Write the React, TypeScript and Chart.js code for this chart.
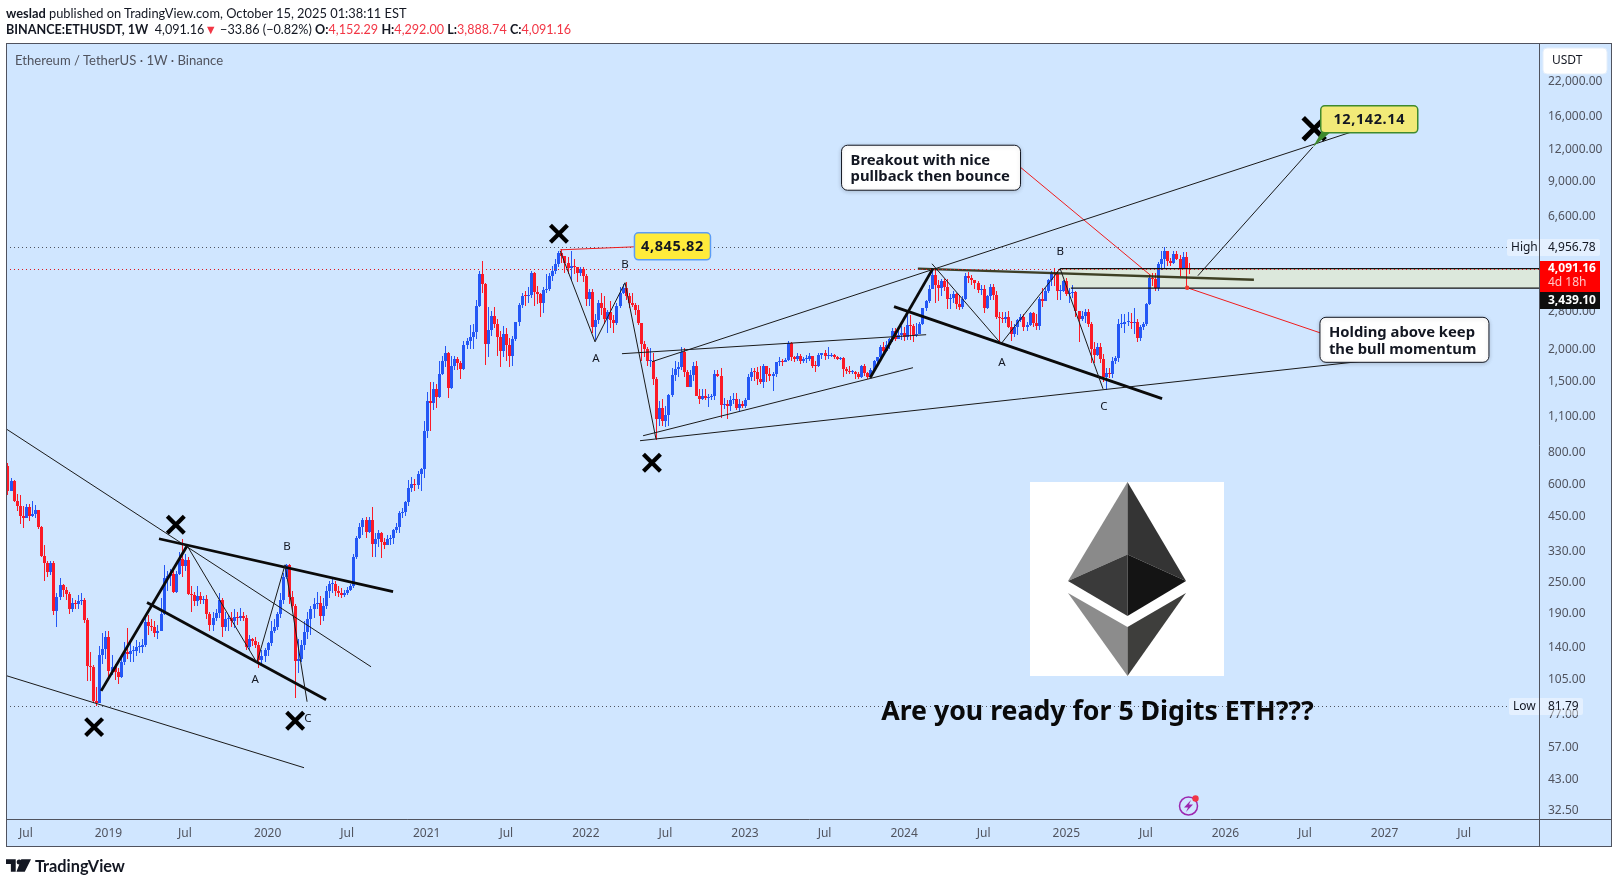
import React, { useEffect, useRef } from "react";
import { Chart, registerables } from "chart.js";

Chart.register(...registerables);

const firstOpen = 703;
const closes = [
  563,615,514,492,449,440,484,449,455,472,
  405,315,296,271,296,192,217,243,231,223,
  195,206,204,209,211,177,117,116,86,84,
  129,137,152,112,116,111,106,122,133,131,
  134,134,139,139,141,174,168,166,157,161,
  187,258,263,268,228,268,305,288,303,223,
  222,210,220,212,214,186,169,181,188,212,
  167,178,180,176,182,181,184,180,139,150,
  147,142,124,128,135,144,160,166,186,212,
  260,289,217,200,123,125,141,159,178,195,
  205,207,184,200,230,244,244,230,225,222,
  225,232,240,310,369,405,431,388,431,348,
  364,385,354,346,365,370,395,405,460,465,
  510,575,595,590,655,685,960,1250,1230,1390,
  1300,1600,1785,1930,1410,1720,1820,1760,1670,2060,
  2140,2230,2330,2930,3890,3560,2090,2370,2680,2490,
  2230,1960,2290,2060,1870,2180,2530,2950,3210,3200,
  3240,3940,3330,3270,3000,3380,3400,3830,4000,4260,
  4720,4570,4320,4100,4190,4135,3925,4065,3830,3120,
  3330,2420,2590,3010,2880,2620,2780,2580,2520,2940,
  3300,3450,3200,3000,2960,2830,2520,2090,2000,1800,
  1800,1520,1070,1180,1050,1110,1325,1580,1670,1700,
  1950,1620,1420,1580,1720,1310,1275,1310,1290,1300,
  1310,1590,1570,1210,1220,1195,1260,1275,1180,1220,
  1195,1265,1555,1630,1625,1520,1490,1720,1590,1570,
  1590,1770,1790,1780,1805,2100,1850,1830,1870,1800,
  1820,1830,1880,1720,1715,1890,1920,1870,1880,1890,
  1860,1830,1840,1665,1645,1630,1630,1590,1560,1710,
  1610,1560,1650,1800,1850,2030,1960,2060,2190,2350,
  2180,2260,2300,2220,2480,2460,2260,2290,2500,2880,
  3070,3420,3880,3520,3450,3650,3460,3130,3150,3250,
  2990,2910,3120,3830,3770,3680,3600,3380,3420,2880,
  3190,3480,3240,2650,2640,2610,2650,2430,2290,2420,
  2580,2650,2430,2470,2750,2510,2460,3130,3070,3350,
  3700,3950,3900,3340,3350,3650,3260,3300,3320,2800,
  2620,2670,2780,2490,2000,1890,2030,1820,1560,1610,
  1590,1800,1840,2490,2500,2530,2530,2525,2530,2200,
  2420,2500,2970,3760,3740,3450,4270,4470,4780,4390,
  4310,4670,4450,4120,4520,4125,4091.16,
];
const highs = [
  720,630,620,547,539,490,500,500,514,495,
  475,410,345,300,300,300,225,257,245,238,
  228,215,212,222,225,215,180,133,118,97,
  140,157,160,160,130,120,115,128,145,165,
  145,140,148,145,150,187,185,178,175,170,
  215,290,275,280,275,275,325,364,320,310,
  240,228,240,228,220,222,190,190,195,225,
  215,190,185,190,195,190,197,190,185,155,
  151,152,146,136,138,146,175,178,190,225,
  270,292,292,230,205,150,148,175,190,200,
  215,228,220,215,240,252,255,250,240,235,
  232,238,245,320,375,420,440,445,445,484,
  385,395,390,370,380,380,400,420,470,480,
  515,620,635,625,670,690,1050,1360,1480,1480,
  1460,1800,1880,2050,1950,1880,1880,1850,1800,2150,
  2200,2470,2500,3100,4000,4370,3600,2900,2800,2900,
  2600,2350,2450,2400,2200,2240,2550,3000,3300,3340,
  3480,4020,3960,3500,3300,3480,3900,3950,4200,4450,
  4800,4868,4600,4550,4780,4450,4150,4150,4150,3900,
  3410,3400,2730,3080,3280,3190,2830,3050,2700,3000,
  3480,3580,3620,3290,3300,3000,2960,2520,2150,2040,
  2010,1930,1560,1250,1280,1200,1340,1680,1790,1780,
  2030,2020,1650,1650,1780,1790,1400,1400,1390,1340,
  1340,1660,1660,1680,1290,1260,1310,1350,1350,1280,
  1250,1290,1600,1680,1680,1700,1710,1740,1700,1680,
  1630,1780,1860,1820,1835,2140,2120,1880,1930,1900,
  1850,1890,1920,1860,1790,1930,1930,1980,2030,1920,
  1900,1870,1860,1850,1700,1720,1660,1640,1620,1730,
  1750,1620,1680,1815,1860,2060,2130,2140,2200,2400,
  2400,2360,2450,2420,2700,2710,2500,2520,2530,2880,
  3100,3520,4000,4090,3680,3730,3720,3720,3250,3350,
  3300,3220,3200,3950,3980,3880,3700,3670,3520,3520,
  3220,3560,3560,3350,2780,2780,2780,2800,2570,2500,
  2600,2730,2720,2550,2770,2770,2720,3170,3450,3450,
  3740,4020,4110,4000,3540,3680,3750,3440,3530,3340,
  2800,2790,2850,2850,2550,2130,2100,2100,1900,1690,
  1690,1860,1880,2600,2730,2730,2780,2740,2880,2600,
  2470,2530,3000,3860,3940,3940,4330,4790,4956.78,4770,
  4490,4770,4770,4640,4760,4760,4292,
];
const lows = [
  540,560,510,470,416,402,440,430,445,440,
  400,310,251,260,265,185,167,212,218,212,
  187,190,195,195,203,173,103,103,84,81.79,
  84,120,125,105,108,104,100,105,118,125,
  122,122,128,132,132,139,155,160,152,150,
  160,185,230,240,225,225,265,260,275,222,
  190,200,200,205,205,178,160,160,175,180,
  152,160,160,167,165,170,176,176,136,136,
  140,138,115,118,122,128,140,158,162,180,
  205,255,205,190,88,110,122,135,150,155,
  180,195,170,175,195,215,225,220,218,215,
  218,222,230,236,305,365,380,370,385,310,
  310,340,308,335,345,345,350,385,385,440,
  450,490,555,560,570,560,630,900,960,1160,
  1180,1290,1580,1700,1290,1400,1650,1650,1530,1650,
  2000,2000,2000,2180,2900,3300,1730,1850,2250,2400,
  1870,1700,1850,1800,1700,1710,2150,2450,2880,2920,
  3000,3150,2930,2970,2650,2750,3300,3360,3650,3900,
  4150,4300,3950,3900,3700,3900,3640,3840,3620,2930,
  2930,2300,2160,2500,2700,2500,2300,2400,2300,2470,
  2880,3250,3100,2880,2900,2700,2480,1790,1860,1720,
  1700,1450,881,1000,1000,995,1000,1300,1500,1550,
  1650,1560,1420,1420,1500,1310,1220,1260,1270,1190,
  1270,1270,1560,1080,1170,1070,1150,1220,1160,1150,
  1180,1180,1260,1500,1500,1450,1460,1410,1480,1500,
  1370,1560,1720,1720,1770,1790,1800,1770,1790,1740,
  1760,1760,1800,1690,1620,1700,1830,1810,1830,1850,
  1820,1810,1810,1550,1600,1590,1600,1530,1530,1540,
  1570,1520,1550,1640,1750,1800,1930,1950,2000,2130,
  2140,2180,2170,2150,2170,2170,2130,2220,2490,2480,
  2800,3000,3400,3000,3050,3200,3350,2850,2850,3020,
  2850,2820,2860,3100,3600,3550,3400,3280,3240,2740,
  2850,3100,3100,2600,2100,2520,2520,2400,2150,2220,
  2270,2540,2350,2350,2450,2420,2360,2360,2900,3050,
  3300,3500,3500,3100,3100,3330,3200,3000,3140,2650,
  2120,2570,2520,2430,1760,1760,1880,1760,1480,1385,
  1540,1540,1750,1780,2400,2310,2450,2380,2290,2120,
  2150,2370,2450,2950,3500,3350,3350,4050,4060,4200,
  4200,4270,4400,3820,4100,3435,3888.74,
];
const opens = [firstOpen, ...closes.slice(0, -1)];

const priceTicks = [22000,16000,12000,9000,6600,2800,2000,1500,1100,800,600,450,330,250,190,140,105,77,57,43,32.5];
const timeTickWeeks = [6,33,58,85,111,137,163,189,215,241,267,293,319,346,372,398,424,450,476];
const timeTickLabels = ["Jul","2019","Jul","2020","Jul","2021","Jul","2022","Jul","2023","Jul","2024","Jul","2025","Jul","2026","Jul","2027","Jul"];

const priceHigh = 4956.78;
const priceLow = 81.79;
const priceLast = 4091.16;
const zoneBottom = 3439.1;

const thinLines = [
  [[-0.5,978],[118.8,116.6]],
  [[-0.3,107.6],[96.9,47.3]],
  [[58.7,344],[81.5,121],[90.7,290],[97.9,85.3]],
  [[180.6,4795],[192,2127],[201.8,3607],[211.9,894]],
  [[200.8,1913],[300.2,2267]],
  [[210.6,1781],[439.4,13900]],
  [[207.7,919],[295.9,1688]],
  [[206.7,879],[456,1862]],
  [[302.1,4274],[324.7,2091],[344,4090],[358,1397]],
  [[389,3840],[426.6,12142]],
];
const thickLines = [
  [[49.5,366],[126,228]],
  [[45.6,207],[104.1,86.8]],
  [[30.6,94],[58.7,344]],
  [[281.9,1543],[302.4,4090]],
  [[289.7,2913],[377.3,1280]],
];
const oliveLine = [[297.5,4090],[407.3,3702]];
const zoneLines = [
  [[344,4091.16],[501,4091.16]],
  [[347.5,3439.1],[501,3439.1]],
];
const redLines = [
  [[180.6,4840],[204.7,4971]],
  [[331.2,10080],[373.7,3840]],
  [[385.5,3450],[428.9,2306]],
];
const crossMarks = [[55,415],[28.3,68],[94,72],[180.2,5590],[210.6,722],[427,14280]];
const waveLabels = [
  ["B",91.3,341],["A",80.9,104],["C",98.2,73],
  ["A",192.3,1828],["B",201.8,4240],
  ["A",325,1766],["B",344,4757],["C",358.3,1192],
];

const BG = "#d0e6ff";
const FRAME = "#50535e";
const UP = "#2457f5";
const DOWN = "#fb1a26";
const FONT = '"Noto Sans", sans-serif';
const HEAD_FONT = 'Lato, sans-serif';

const fmt = (v: number) => v.toLocaleString("en-US", { minimumFractionDigits: 2, maximumFractionDigits: 2 });
const toPts = (l: number[][]) => l.map(([x, y]) => ({ x, y }));

function box(ctx: any, x: number, y: number, w: number, h: number, r: number, fill: string, stroke: string, lw: number) {
  ctx.beginPath();
  ctx.roundRect(x, y, w, h, r);
  ctx.fillStyle = fill;
  ctx.fill();
  if (lw > 0) {
    ctx.lineWidth = lw;
    ctx.strokeStyle = stroke;
    ctx.stroke();
  }
}
function poly(ctx: any, pts: number[][], fill: string) {
  ctx.beginPath();
  pts.forEach(([x, y], i) => (i ? ctx.lineTo(x, y) : ctx.moveTo(x, y)));
  ctx.closePath();
  ctx.fillStyle = fill;
  ctx.fill();
}

const tvPlugin = {
  id: "tv",
  afterLayout(chart: any) {
    const x = chart.scales.x, y = chart.scales.y;
    x.left = 6; x.right = 1539; x.width = 1533; x.top = 819; x.bottom = 847; x.height = 28;
    y.left = 1539; y.right = 1612; y.width = 73; y.top = 43; y.bottom = 819; y.height = 776;
    Object.assign(chart.chartArea, { left: 6, right: 1539, top: 43, bottom: 819, width: 1533, height: 776 });
    x.configure();
    y.configure();
  },
  beforeDraw(chart: any) {
    const { ctx, chartArea: a } = chart;
    ctx.save();
    ctx.fillStyle = BG;
    ctx.fillRect(a.left, a.top, 1612 - a.left, 847 - a.top);
    ctx.restore();
  },
  beforeDatasetsDraw(chart: any) {
    const { ctx, chartArea: a, scales } = chart;
    const X = scales.x, Y = scales.y;
    // keep candles on whole pixels, the way the trading terminal paints them
    [0, 1].forEach((d) => {
      chart.getDatasetMeta(d).data.forEach((el: any) => {
        el.x = Math.round(el.x) + 0.5;
        const t = Math.round(el.y);
        let b = Math.round(el.base);
        if (b <= t) b = t + 1;
        el.y = t;
        el.base = b;
      });
    });
    ctx.save();
    ctx.fillStyle = "#dce8dc";
    const zx = X.getPixelForValue(344);
    const zt = Y.getPixelForValue(priceLast), zb = Y.getPixelForValue(zoneBottom);
    ctx.fillRect(zx, zt, a.right - zx, zb - zt);
    ctx.lineWidth = 1;
    ctx.setLineDash([1, 3]);
    const yh = Math.round(Y.getPixelForValue(priceHigh)) + 0.5;
    const yl = Math.round(Y.getPixelForValue(priceLow)) + 0.5;
    ctx.strokeStyle = FRAME;
    ctx.beginPath();
    ctx.moveTo(a.left, yh); ctx.lineTo(1507, yh);
    ctx.moveTo(a.left, yl); ctx.lineTo(1509, yl);
    ctx.stroke();
    ctx.restore();
  },
  afterDatasetsDraw(chart: any) {
    const { ctx, chartArea: a, scales } = chart;
    const X = scales.x, Y = scales.y;
    ctx.save();
    const yc = Math.round(Y.getPixelForValue(priceLast)) + 0.5;
    ctx.setLineDash([1, 3]);
    ctx.lineWidth = 1;
    ctx.strokeStyle = "#e0161c";
    ctx.beginPath(); ctx.moveTo(a.left, yc); ctx.lineTo(a.right, yc); ctx.stroke();
    ctx.setLineDash([]);

    // marker at the wick end
    ctx.fillStyle = "#f23a2e";
    ctx.beginPath();
    ctx.arc(X.getPixelForValue(385.5), Y.getPixelForValue(3450), 2.2, 0, Math.PI * 2);
    ctx.fill();

    // wave letters
    ctx.font = `11.5px ${FONT}`;
    ctx.fillStyle = "#131722";
    ctx.textAlign = "center";
    ctx.textBaseline = "middle";
    waveLabels.forEach(([t, k, v]: any) => ctx.fillText(t, X.getPixelForValue(k), Y.getPixelForValue(v)));

    // ETH logo picture
    ctx.fillStyle = "#ffffff";
    ctx.fillRect(1030, 482, 194, 194);
    const cx = 1127.5;
    poly(ctx, [[cx,482],[1068,581],[cx,554.5]], "#8a8a8a");
    poly(ctx, [[cx,482],[1186,581],[cx,554.5]], "#343434");
    poly(ctx, [[cx,554.5],[1068,581],[cx,616]], "#3a3a3a");
    poly(ctx, [[cx,554.5],[1186,581],[cx,616]], "#141414");
    poly(ctx, [[1068,593],[cx,627],[cx,676]], "#8c8c8c");
    poly(ctx, [[1186,593],[cx,627],[cx,676]], "#3e3e3c");

    // big headline
    ctx.font = `700 26.7px ${FONT}`;
    ctx.fillStyle = "#0a0a0a";
    ctx.fillText("Are you ready for 5 Digits ETH???", X.getPixelForValue(356.2), Y.getPixelForValue(77.3));

    // price pills
    const pill = (t: string, k: number, v: number, w: number, h: number, fill: string, stroke: string) => {
      const x = X.getPixelForValue(k), y = Y.getPixelForValue(v);
      box(ctx, x - w / 2, y - h / 2, w, h, 4, fill, stroke, 1.5);
      ctx.font = `700 14.5px ${FONT}`;
      ctx.fillStyle = "#131722";
      ctx.letterSpacing = "0.6px";
      ctx.fillText(t, x, y + 0.5);
      ctx.letterSpacing = "0px";
    };
    // pointer of the 12,142.14 pill
    poly(ctx, [[X.getPixelForValue(426.6), Y.getPixelForValue(12142)], [1322, 131], [1332, 131]], "#3f8a2e");
    pill("4,845.82", 217.3, 4995, 76, 27, "#ffeb3b", "#5b9cf6");
    pill("12,142.14", 445, 15540, 97, 27, "#f2ea78", "#3f8a2e");

    // white note cards
    const note = (lines: string[], k: number, v: number, w: number, h: number) => {
      const x = X.getPixelForValue(k), y = Y.getPixelForValue(v);
      ctx.shadowColor = "rgba(0,0,0,0.18)";
      ctx.shadowBlur = 4;
      ctx.shadowOffsetY = 1;
      box(ctx, x - w / 2, y - h / 2, w, h, 6, "#ffffff", "#131722", 1);
      ctx.shadowColor = "transparent";
      ctx.font = `700 14.8px ${FONT}`;
      ctx.fillStyle = "#131722";
      ctx.textAlign = "left";
      lines.forEach((l, i) => ctx.fillText(l, x - w / 2 + 9, y - 7 + i * 16.5));
      ctx.textAlign = "center";
    };
    note(["Breakout with nice", "pullback then bounce"], 301.8, 10080, 179, 45);
    note(["Holding above keep", "the bull momentum"], 456.5, 2166, 169, 45);

    // lightning badge
    ctx.strokeStyle = "#9c27b0";
    ctx.lineWidth = 1.5;
    ctx.beginPath(); ctx.arc(1188.5, 806, 9, 0, Math.PI * 2); ctx.stroke();
    poly(ctx, [[1191,800],[1184,807.5],[1188,807.5],[1186,812],[1193,804.5],[1189,804.5]], "#9c27b0");
    ctx.fillStyle = "#f23645";
    ctx.beginPath(); ctx.arc(1195.5, 798.5, 3.2, 0, Math.PI * 2); ctx.fill();

    // price-axis flags
    ctx.textAlign = "left";
    ctx.font = `12px ${FONT}`;
    box(ctx, 1507, 239, 93, 17, 2, "rgba(255,255,255,0.42)", "", 0);
    box(ctx, 1509, 698, 74, 17, 2, "rgba(255,255,255,0.42)", "", 0);
    ctx.fillStyle = "#131722";
    ctx.fillText("High", 1511, 247.5);
    ctx.fillText(fmt(priceHigh), 1548, 247.5);
    ctx.fillText("Low", 1513, 707);
    ctx.fillText(fmt(priceLow), 1548, 707);
    ctx.fillStyle = "#ff0000";
    ctx.fillRect(1539, 261, 61, 31);
    ctx.fillStyle = "#0e0e0e";
    ctx.fillRect(1539, 292, 61, 17);
    ctx.font = `700 12px ${FONT}`;
    ctx.fillStyle = "#ffffff";
    ctx.fillText(fmt(priceLast), 1548, 269);
    ctx.fillText(fmt(zoneBottom), 1548, 300.5);
    ctx.font = `12px ${FONT}`;
    ctx.fillStyle = "#ffc4c4";
    ctx.fillText("4d 18h", 1548, 283);

    // USDT button
    box(ctx, 1543, 48, 64, 26, 4, "#ffffff", "#e4eefa", 1);
    ctx.fillStyle = "#131722";
    ctx.fillText("USDT", 1552, 61);

    // frame
    ctx.strokeStyle = FRAME;
    ctx.lineWidth = 1;
    ctx.strokeRect(6.5, 43.5, 1605, 803);
    ctx.beginPath();
    ctx.moveTo(1539.5, 43.5); ctx.lineTo(1539.5, 847);
    ctx.moveTo(6.5, 819.5); ctx.lineTo(1612, 819.5);
    ctx.stroke();
    ctx.restore();
  },
};

export default function App() {
  const ref = useRef<HTMLCanvasElement | null>(null);
  useEffect(() => {
    const weeks = closes.map((_, i) => i);
    const colors = weeks.map((i) => (closes[i] >= opens[i] ? UP : DOWN));
    const lineSet = (l: number[][], color: string, width: number) => ({
      type: "line",
      data: toPts(l),
      borderColor: color,
      borderWidth: width,
      pointRadius: 0,
      tension: 0,
      fill: false,
      order: 1,
    });
    const chart = new Chart(ref.current as any, {
      type: "bar",
      data: {
        datasets: [
          {
            type: "bar",
            data: weeks.map((i) => ({ x: i, y: [lows[i], highs[i]] })),
            backgroundColor: colors,
            barThickness: 1,
            borderWidth: 0,
            inflateAmount: 0,
            grouped: false,
            order: 4,
          },
          {
            type: "bar",
            data: weeks.map((i) => ({ x: i, y: [Math.min(opens[i], closes[i]), Math.max(opens[i], closes[i])] })),
            backgroundColor: colors,
            barThickness: 3,
            minBarLength: 1,
            borderWidth: 0,
            inflateAmount: 0,
            grouped: false,
            order: 3,
          },
          ...zoneLines.map((l) => lineSet(l, "#101010", 1.2)),
          ...thinLines.map((l) => lineSet(l, "#1a1a1a", 1)),
          ...thickLines.map((l) => lineSet(l, "#0a0a0a", 2.8)),
          lineSet(oliveLine, "rgba(40,40,10,0.88)", 2.4),
          ...redLines.map((l) => lineSet(l, "#f01c1c", 1)),
          {
            type: "line",
            data: toPts(crossMarks),
            showLine: false,
            pointStyle: "crossRot",
            pointRadius: crossMarks.map((_, i) => (i === crossMarks.length - 1 ? 15.5 : 12)),
            pointBorderWidth: crossMarks.map((_, i) => (i === crossMarks.length - 1 ? 5 : 4.2)),
            pointBorderColor: "#000000",
            order: 0,
          },
        ] as any,
      },
      options: {
        responsive: false,
        animation: false,
        devicePixelRatio: 1,
        events: [],
        layout: { padding: { left: 6, top: 43, right: 6, bottom: 37 } },
        plugins: { legend: { display: false }, tooltip: { enabled: false }, title: { display: false } },
        scales: {
          x: {
            type: "linear",
            offset: false,
            min: -0.49,
            max: 500.47,
            grid: { display: false, drawTicks: false },
            border: { display: false },
            afterFit: (s: any) => { s.height = 28; },
            afterBuildTicks: (s: any) => { s.ticks = timeTickWeeks.map((value) => ({ value })); },
            ticks: {
              autoSkip: false,
              maxRotation: 0,
              padding: 7,
              color: "#50535e",
              font: { family: FONT, size: 12 },
              callback: (v: any) => timeTickLabels[timeTickWeeks.indexOf(v)] ?? "",
            },
          },
          y: {
            type: "logarithmic",
            position: "right",
            min: 29.91,
            max: 30730,
            grid: { display: false, drawTicks: false },
            border: { display: false },
            afterFit: (s: any) => { s.width = 73; },
            afterBuildTicks: (s: any) => { s.ticks = priceTicks.map((value) => ({ value })); },
            ticks: {
              autoSkip: false,
              padding: 9,
              crossAlign: "near",
              labelOffset: 1,
              color: "#50535e",
              font: { family: FONT, size: 12 },
              callback: (v: any) => fmt(Number(v)),
            },
          },
        },
      } as any,
      plugins: [tvPlugin as any],
    } as any);
    return () => chart.destroy();
  }, []);

  const head: React.CSSProperties = { position: "absolute", left: 6, font: `12.7px ${HEAD_FONT}`, color: "#131722", whiteSpace: "nowrap" };
  const red = { color: "#f23645" };
  return (
    <div style={{ position: "absolute", left: 0, top: 0, width: 1618, height: 884, overflow: "hidden", background: "#fff" }}>
      <canvas ref={ref} width={1618} height={884} style={{ position: "absolute", left: 0, top: 0, display: "block" }} />
      <div style={{ ...head, top: 5, fontSize: 12.85 }}><b>weslad</b> published on TradingView.com, October 15, 2025 01:38:11 EST</div>
      <div style={{ ...head, top: 22, fontSize: 12.6 }}>
        <b>BINANCE:ETHUSDT, 1W</b>&nbsp; 4,091.16<span style={red}>▼</span> −33.86 (−0.82%) <b>O:</b><span style={red}>4,152.29</span> <b>H:</b><span style={red}>4,292.00</span> <b>L:</b><span style={red}>3,888.74</span> <b>C:</b><span style={red}>4,091.16</span>
      </div>
      <div style={{ ...head, left: 15, top: 52, fontSize: 13.1, color: "#50535e" }}>Ethereum / TetherUS · 1W · Binance</div>
      <div style={{ position: "absolute", left: 6, top: 856, display: "flex", alignItems: "center", gap: 4, color: "#131722", font: `700 16.3px ${HEAD_FONT}` }}>
        <svg width="25" height="13" viewBox="0 0 36 18">
          <path d="M0 0h14v18H7V7H0z M22 0h14l-9 18H15z" fill="#131722" />
          <circle cx="19" cy="4" r="3.6" fill="#131722" />
        </svg>
        <span>TradingView</span>
      </div>
    </div>
  );
}
